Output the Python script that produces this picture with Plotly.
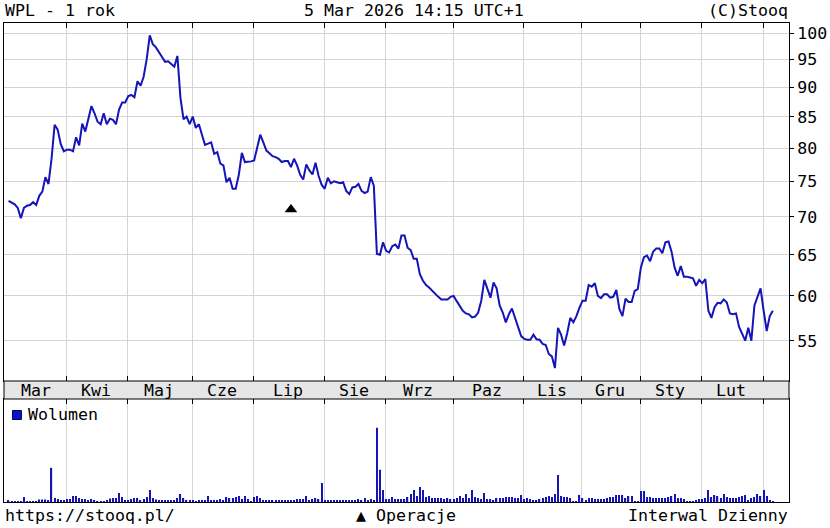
import plotly.graph_objects as go

# ---------------- data ----------------
title_left = "WPL - 1 rok"
title_mid = "5 Mar 2026 14:15 UTC+1"
title_right = "(C)Stooq"
footer_left = "https://stooq.pl/"
footer_mid = "▲ Operacje"
footer_right = "Interwal Dzienny"
volume_label = "Wolumen"

month_labels = ["Mar", "Kwi", "Maj", "Cze", "Lip", "Sie", "Wrz", "Paz", "Lis", "Gru", "Sty", "Lut", ""]
month_days = [19, 20, 21, 20, 23, 20, 22, 23, 19, 19, 20, 20, 4]   # sessions per month

price_ticks = [55, 60, 65, 70, 75, 80, 85, 90, 95, 100]

prices = [
    72.2, 71.9, 71.7, 71.2, 69.8, 71.2, 71.5, 71.6, 72.0, 71.6,
    72.9, 73.5, 75.6, 74.6, 78.35, 83.7, 82.9, 80.6, 79.5, 79.75,
    79.75, 79.5, 81.7, 80.4, 83.9, 82.6, 84.6, 86.8, 85.6, 84.2,
    83.8, 85.6, 83.8, 84.7, 84.5, 83.8, 86.2, 87.4, 87.4, 88.5,
    88.7, 88.3, 91.1, 90.3, 91.9, 95.1, 99.6, 97.9, 97.3, 96.5,
    95.5, 94.6, 94.7, 94.2, 93.7, 95.7, 88.2, 84.6, 85.05, 83.8,
    85.05, 83.2, 83.8, 82.1, 80.5, 80.7, 80.9, 79.1, 79.35, 77.6,
    77.35, 74.85, 75.5, 73.9, 73.9, 75.9, 79.25, 77.85, 77.85, 77.95,
    78.1, 80.0, 82.1, 80.9, 79.6, 79.2, 78.75, 78.6, 78.35, 77.85,
    78.0, 78.0, 77.1, 78.35, 77.35, 75.95, 75.25, 77.5, 76.6, 76.0,
    77.75, 75.8, 74.5, 73.9, 75.5, 74.7, 75.0, 74.85, 74.7, 74.85,
    73.6, 73.15, 74.1, 74.2, 74.6, 73.6, 73.3, 73.5, 75.6, 74.35,
    65.1, 65.0, 66.6, 65.5, 65.3, 66.1, 66.3, 65.8, 67.5, 67.5,
    65.9, 65.6, 64.5, 64.5, 62.6, 61.8, 61.3, 61.0, 60.6, 60.2,
    59.9, 59.6, 59.6, 59.6, 59.9, 60.0, 59.4, 58.8, 58.3, 58.0,
    57.9, 57.55, 57.65, 58.1, 59.45, 61.9, 60.8, 59.8, 61.6, 60.9,
    58.9, 58.1, 57.0, 57.9, 58.55, 57.55, 56.7, 55.5, 55.2, 55.1,
    55.1, 55.65, 55.15, 55.1, 54.66, 54.55, 53.6, 53.35, 52.15, 56.4,
    55.65, 54.5, 55.8, 57.5, 57.0, 57.7, 58.65, 59.45, 59.45, 61.3,
    61.1, 61.5, 60.0, 59.75, 60.2, 60.2, 59.8, 59.9, 60.7, 58.5,
    57.7, 59.7, 59.3, 59.3, 60.6, 60.8, 63.4, 64.7, 64.9, 64.2,
    65.4, 65.8, 65.8, 65.2, 66.6, 66.7, 65.4, 63.4, 62.4, 63.6,
    62.3, 62.3, 62.2, 62.1, 61.2, 61.9, 61.5, 62.0, 58.3, 57.5,
    58.7, 59.2, 59.15, 59.6, 59.25, 58.0, 57.9, 58.0, 56.5, 55.75,
    55.0, 56.4, 55.0, 58.9, 59.8, 60.9, 58.3, 56.05, 57.7, 58.3,
]

# volume, thousands of shares
volumes = [
    1.5, 0.5, 0.5, 0.5, 0.5, 5, 0.5, 0.5, 0.5, 0.5,
    2.5, 2.5, 2.5, 2, 34, 4, 3, 2, 2, 3,
    3, 6, 6, 4, 3, 3, 1.5, 3, 2, 0.5,
    0.5, 0.5, 2, 3.5, 4, 4, 9, 5, 2, 2,
    3, 4, 4, 2, 3, 5, 12, 4, 2.5, 2,
    2, 2, 2, 2, 2, 4, 8, 4, 2, 1.5,
    1.5, 0.5, 2, 2, 1.5, 6, 2, 2, 2, 3,
    2, 5, 4, 4, 5, 6, 3, 6, 3, 0.5,
    5, 6, 4, 2, 2, 1.5, 1.5, 1.5, 1.5, 2,
    2, 1.5, 2, 2, 3, 3, 3, 6, 2, 3,
    4, 3, 19, 2, 2, 2, 2, 1.5, 1.5, 2,
    1.5, 2, 1.5, 2, 3, 2, 4, 2, 3, 2,
    74, 32, 12, 3, 3, 5, 3, 3, 3, 3,
    5, 8, 12, 6, 15, 12, 5, 6, 4, 4,
    4, 4, 3, 4, 3, 3, 4, 6, 4, 8,
    4, 12, 5, 4, 3, 9, 3, 3, 2, 4,
    4, 4, 5, 5, 5, 4, 4, 7, 3, 4,
    3, 2, 2, 3, 4, 5, 6, 5, 8, 27,
    6, 5, 5, 4, 1, 1, 7, 4, 2, 4,
    4, 3, 3, 3, 3, 4, 5, 5, 7, 7,
    7, 4, 6, 6, 1, 1, 11, 11, 5, 5,
    4, 4, 4, 4, 4, 5, 6, 8, 4, 4,
    3, 1, 1, 1, 2, 3, 3, 4, 12, 5,
    7, 6, 4, 8, 5, 4, 4, 4, 5, 6,
    7, 2, 4, 5, 8, 6, 12, 6, 2, 1,
]

op_index = [92]      # "Operacje" marker
op_level = [71.0]

# ---------------- layout geometry ----------------
W, H = 830, 528
ML, MR, MT, MB = 3, 38, 23, 26
PW, PH = W - ML - MR, H - MT - MB


def px(X):
    return (X - ML) / PW


def py(Y):
    return (H - MB - Y) / PH


FONT = "DejaVu Sans Mono"
FS = 16.6
GRID = "#d4d4d4"
BLUE = "#1414b8"

n = len(prices)
idx = list(range(n))
x0_px, step_px = 7.6, 3.085
x_range = [(ML - x0_px) / step_px, (ML + PW - x0_px) / step_px]

starts = []
s = 0
for d in month_days:
    starts.append(s)
    s += d
grid_x = [st - 0.2 for st in starts[1:]]
label_x = [st + (d - 1) / 2 for st, d in zip(starts, month_days)]

price_bottom_px, band_bottom_px = 381, 399
# log axis: 100 at y=33.3 px, 1184 px per decade
log_top = 2 + (33.3 - MT) / 1184
log_bot = 2 - (price_bottom_px - 33.3) / 1184

fig = go.Figure()
fig.add_trace(go.Scatter(x=idx, y=prices, mode="lines",
                         line=dict(color=BLUE, width=2),
                         xaxis="x", yaxis="y", hoverinfo="skip"))
fig.add_trace(go.Scatter(x=op_index, y=op_level, mode="markers",
                         marker=dict(symbol="triangle-up", size=11, color="black"),
                         xaxis="x", yaxis="y", hoverinfo="skip"))
fig.add_trace(go.Bar(x=idx, y=volumes, width=0.4,
                     marker=dict(color=BLUE, line=dict(width=0)),
                     xaxis="x2", yaxis="y2", hoverinfo="skip"))

vmax = max(volumes) * 1.386

axis_common = dict(showline=True, linecolor="black", linewidth=1, zeroline=False)

fig.update_layout(
    width=W, height=H,
    margin=dict(l=ML, r=MR, t=MT, b=MB, pad=0),
    paper_bgcolor="white", plot_bgcolor="white",
    showlegend=False,
    font=dict(family=FONT, size=FS, color="black"),
    xaxis=dict(domain=[0, 1], anchor="y", range=x_range,
               tickmode="array", tickvals=grid_x, showticklabels=False,
               ticks="inside", ticklen=5, tickcolor="black",
               showgrid=True, gridcolor=GRID, gridwidth=1,
               mirror="ticks", **axis_common),
    yaxis=dict(domain=[py(price_bottom_px), 1], anchor="x", type="log",
               range=[log_bot, log_top], side="right",
               tickmode="array", tickvals=price_ticks,
               ticktext=[str(t) for t in price_ticks],
               ticks="outside", ticklen=4, tickcolor="black",
               tickfont=dict(family=FONT, size=FS, color="black"),
               showgrid=True, gridcolor=GRID, gridwidth=1,
               mirror=True, **axis_common),
    xaxis2=dict(domain=[0, 1], anchor="y2", range=x_range, side="top",
                tickmode="array", tickvals=grid_x, showticklabels=False,
                ticks="inside", ticklen=5, tickcolor="black",
                showgrid=True, gridcolor=GRID, gridwidth=1,
                mirror=True, **axis_common),
    yaxis2=dict(domain=[0, py(band_bottom_px)], anchor="x2", range=[0, vmax],
                showticklabels=False, ticks="", showgrid=False,
                mirror=True, **axis_common),
)

# month band
fig.add_shape(type="rect", xref="paper", yref="paper",
              x0=0, x1=1, y0=py(band_bottom_px), y1=py(price_bottom_px),
              fillcolor="#e6e6e6", line=dict(color="black", width=1), layer="above")

band_mid = py((price_bottom_px + band_bottom_px) / 2)
for lx, lab in zip(label_x, month_labels):
    if lab:
        fig.add_annotation(x=lx, y=band_mid, xref="x", yref="paper", text=lab,
                           showarrow=False, xanchor="center", yanchor="middle",
                           font=dict(family=FONT, size=FS, color="black"))

# volume legend
fig.add_shape(type="rect", xref="paper", yref="paper",
              x0=px(11.5), x1=px(20.5), y0=py(419.5), y1=py(410.5),
              fillcolor="#1010c8", line=dict(color="#000060", width=1), layer="above")
fig.add_annotation(x=px(25), y=py(414), xref="paper", yref="paper", text=volume_label,
                   showarrow=False, xanchor="left", yanchor="middle",
                   font=dict(family=FONT, size=FS, color="black"))

# header / footer
for txt, X, anchor, Y in [
    (title_left, 2, "left", 11), (title_mid, 415, "center", 11), (title_right, 793, "right", 11),
    (footer_left, 2, "left", 515), (footer_mid, 407, "center", 515), (footer_right, 793, "right", 515),
]:
    fig.add_annotation(x=px(X), y=py(Y), xref="paper", yref="paper", text=txt,
                       showarrow=False, xanchor=anchor, yanchor="middle",
                       font=dict(family=FONT, size=FS, color="black"))

fig.write_html("out.html", config={"displayModeBar": False},
               post_script="document.body.style.margin='0';")
